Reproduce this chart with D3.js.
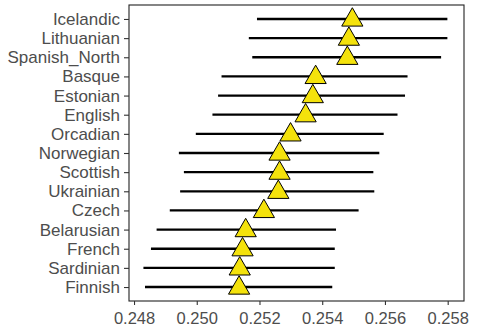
<!DOCTYPE html>
<html>
<head>
<meta charset="utf-8">
<script src="https://cdn.jsdelivr.net/npm/d3@7"></script>
<style>
  html, body { margin: 0; padding: 0; background: #fff; }
  svg { display: block; }
  text { font-family: "Liberation Sans", Arial, sans-serif; }
</style>
</head>
<body>
<script>
const categories = ["Icelandic","Lithuanian","Spanish_North","Basque","Estonian","English","Orcadian","Norwegian","Scottish","Ukrainian","Czech","Belarusian","French","Sardinian","Finnish"];
const estimates = [0.25496,0.25485,0.25480,0.25379,0.25370,0.25347,0.25299,0.25264,0.25264,0.25260,0.25214,0.25156,0.25146,0.25137,0.25135];
const lower = [0.25192,0.25166,0.25177,0.25079,0.25068,0.25050,0.24997,0.24943,0.24959,0.24947,0.24914,0.24872,0.24854,0.24830,0.24835];
const upper = [0.25799,0.25799,0.25779,0.25672,0.25664,0.25640,0.25596,0.25582,0.25563,0.25566,0.25516,0.25444,0.25440,0.25440,0.25432];
const xTicks = [0.248,0.250,0.252,0.254,0.256,0.258];

const W = 486, H = 334;
const panel = {left: 129, right: 464, top: 5, bottom: 301};
const svg = d3.select("body").append("svg").attr("width", W).attr("height", H);

const x = d3.scaleLinear().domain([0.24784, 0.25852]).range([panel.left, panel.right]);
const y = d3.scalePoint().domain(categories).range([panel.top, panel.bottom]).padding(0.73);

const data = categories.map((c, i) => ({c, est: estimates[i], lo: lower[i], hi: upper[i]}));

// error lines
svg.append("g").selectAll("line").data(data).join("line")
  .attr("x1", d => x(d.lo)).attr("x2", d => x(d.hi))
  .attr("y1", d => y(d.c)).attr("y2", d => y(d.c))
  .attr("stroke", "#000").attr("stroke-width", 2.3);

// triangles
const tri = d3.symbol().type(d3.symbolTriangle).size(195);
svg.append("g").selectAll("path").data(data).join("path")
  .attr("d", tri)
  .attr("transform", d => `translate(${x(d.est)},${y(d.c) + 1})`)
  .attr("fill", "#F4E20C").attr("stroke", "#000").attr("stroke-width", 1);

// panel border
svg.append("rect")
  .attr("x", panel.left).attr("y", panel.top)
  .attr("width", panel.right - panel.left).attr("height", panel.bottom - panel.top)
  .attr("fill", "none").attr("stroke", "#222").attr("stroke-width", 1.1);

// axes
const xAxis = svg.append("g").attr("transform", `translate(0,${panel.bottom})`)
  .call(d3.axisBottom(x).tickValues(xTicks).tickFormat(d3.format(".3f")).tickSize(4).tickPadding(7));
const yAxis = svg.append("g").attr("transform", `translate(${panel.left},0)`)
  .call(d3.axisLeft(y).tickSize(5).tickPadding(4));

[xAxis, yAxis].forEach(g => {
  g.select(".domain").remove();
  g.selectAll(".tick line").attr("stroke", "#333").attr("stroke-width", 1.1);
  g.selectAll(".tick text").attr("fill", "#4D4D4D")
    .style("font-family", "'Liberation Sans', Arial, sans-serif");
});
xAxis.selectAll(".tick text").style("font-size", "16.5px");
yAxis.selectAll(".tick text").style("font-size", "17px");
</script>
</body>
</html>
